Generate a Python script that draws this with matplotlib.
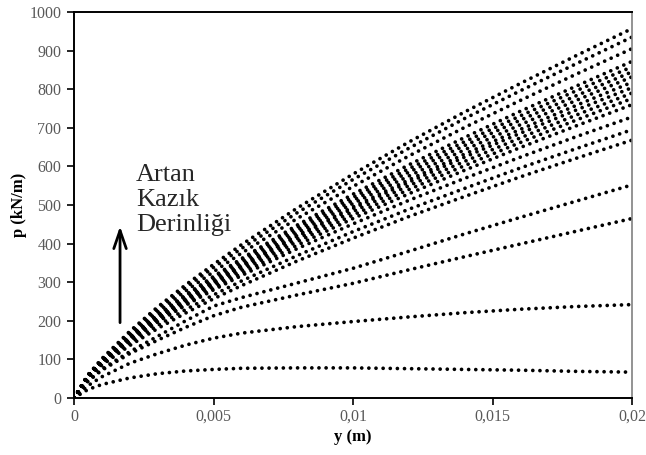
import matplotlib
matplotlib.use("Agg")
import matplotlib.pyplot as plt

# displacement grid (m)
y_disp = [0, 0.0005, 0.001, 0.002, 0.003, 0.004, 0.005, 0.006, 0.008,
          0.010, 0.012, 0.014, 0.016, 0.018, 0.020]

# p values (kN/m) per curve
p_957 = [0, 60, 102, 173, 236, 293, 346, 397, 492, 580, 663, 741, 815, 887, 957]
p_935 = [0, 59, 100, 169, 230, 286, 338, 387, 480, 566, 647, 724, 796, 866, 935]
p_905 = [0, 57, 97, 164, 223, 277, 327, 375, 465, 548, 627, 701, 771, 839, 905]
p_872 = [0, 56, 94, 158, 215, 267, 315, 361, 448, 528, 604, 675, 743, 808, 872]
p_858 = [0, 58, 96, 160, 216, 266, 313, 358, 442, 520, 594, 664, 731, 796, 858]
p_845 = [0, 57, 95, 157, 212, 262, 308, 352, 435, 512, 585, 654, 720, 783, 845]
p_832 = [0, 56, 93, 155, 208, 257, 303, 346, 428, 504, 575, 643, 708, 771, 832]
p_818 = [0, 55, 92, 152, 205, 253, 298, 341, 421, 495, 565, 632, 696, 758, 818]
p_804 = [0, 59, 96, 157, 209, 256, 300, 342, 419, 491, 559, 624, 686, 746, 804]
p_790 = [0, 58, 94, 154, 205, 252, 295, 336, 412, 483, 550, 613, 674, 733, 790]
p_776 = [0, 57, 92, 151, 202, 247, 290, 330, 405, 474, 540, 602, 662, 720, 776]
p_760 = [0, 55, 91, 148, 198, 242, 284, 323, 396, 465, 529, 590, 649, 705, 760]
p_728 = [0, 57, 92, 149, 197, 240, 280, 317, 387, 451, 512, 569, 624, 677, 728]
p_695 = [0, 55, 88, 142, 188, 229, 267, 303, 369, 431, 489, 543, 596, 646, 695]
p_668 = [0, 52, 85, 136, 180, 220, 257, 291, 355, 414, 470, 522, 573, 621, 668]
p_552 = [0, 45, 75, 120, 160, 200, 238, 260, 298, 336, 380, 425, 468, 510, 552]
p_465 = [0, 43, 72, 115, 150, 183, 213, 235, 267, 297, 332, 366, 399, 432, 465]
p_242 = [0, 32, 55, 90, 115, 137, 155, 168, 185, 198, 210, 221, 230, 237, 242]
p_67 = [0, 22, 35, 52, 63, 70, 74, 77, 78, 78, 76, 74, 72, 69, 67]

curves = [p_957, p_935, p_905, p_872, p_858, p_845, p_832, p_818, p_804,
          p_790, p_776, p_760, p_728, p_695, p_668, p_552, p_465, p_242, p_67]

x_ticks = [0, 0.005, 0.01, 0.015, 0.02]
x_tick_labels = ["0", "0,005", "0,01", "0,015", "0,02"]
y_ticks = list(range(0, 1001, 100))

annotation = "Artan\nKazık\nDerinliği"

plt.rcParams['font.family'] = ['Liberation Serif', 'DejaVu Serif']

fig = plt.figure(figsize=(6.46, 4.55), dpi=100)
ax = fig.add_axes([74/646, 57/455, 558/646, 386/455])

for p in curves:
    ax.plot(y_disp, p, color='black', linewidth=2.7,
            linestyle=(0, (0.001, 1.9)), dash_capstyle='round',
            solid_capstyle='round')

ax.set_xlim(0, 0.02)
ax.set_ylim(0, 1000)
ax.set_xticks(x_ticks)
ax.set_xticklabels(x_tick_labels)
ax.set_yticks(y_ticks)

for s in ['left', 'bottom', 'top']:
    ax.spines[s].set_color('black')
    ax.spines[s].set_linewidth(1.4)
ax.spines['right'].set_color('#808080')
ax.spines['right'].set_linewidth(1.2)

ax.tick_params(axis='both', direction='out', length=5, width=1.2,
               color='black', labelsize=11.5, labelcolor='#595959')
ax.tick_params(axis='x', pad=3)
ax.tick_params(axis='y', pad=4)

ax.set_xlabel("y (m)", fontsize=12, fontweight='bold', labelpad=3)
ax.set_ylabel("p (kN/m)", fontsize=12, fontweight='bold', labelpad=2)

ax.annotate('', xy=(0.00165, 452), xytext=(0.00165, 188),
            arrowprops=dict(arrowstyle='->,head_length=1.3,head_width=0.45',
                            color='black', lw=2.0))
ax.text(0.00222, 513, annotation, fontsize=19, color='#262626',
        ha='left', va='center', linespacing=1.2)

fig.savefig("out.png", dpi=100, facecolor='white')
